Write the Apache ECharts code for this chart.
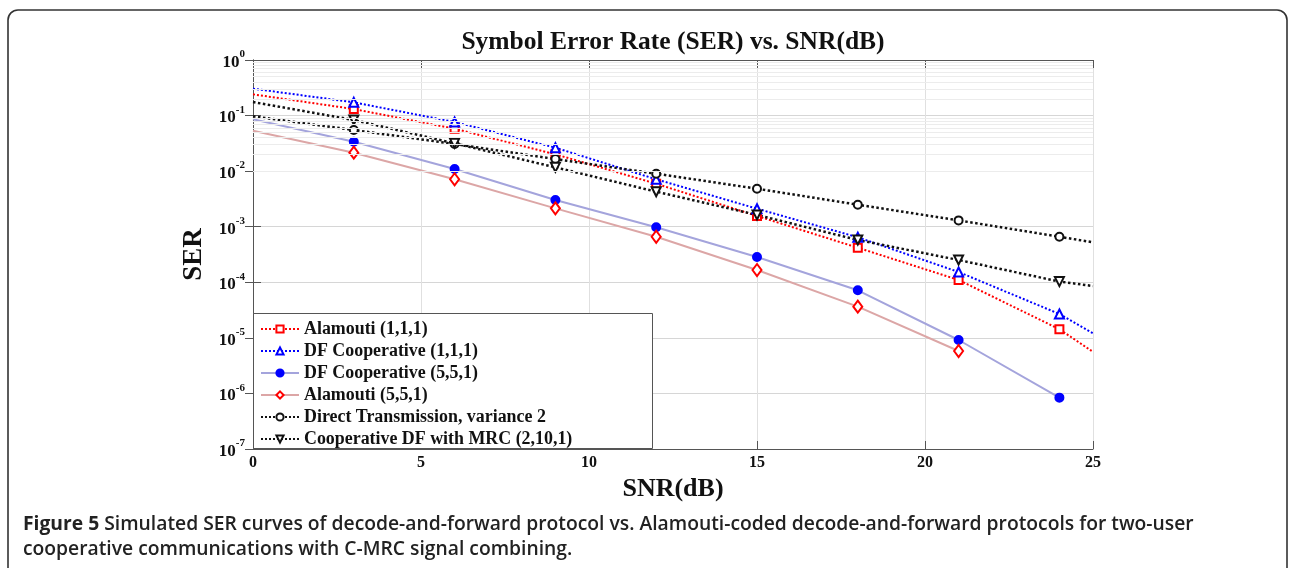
<!DOCTYPE html>
<html>
<head>
<meta charset="utf-8">
<title>SER vs SNR</title>
<script src="https://cdn.jsdelivr.net/npm/echarts@6/dist/echarts.min.js"></script>
<style>
  html, body { margin: 0; padding: 0; background: #fff; }
  #main { width: 1289px; height: 568px; }
</style>
</head>
<body>
<div id="main"></div>
<script>
// SNR points (dB); markers only sit on 3..24
const snr = [0, 3, 6, 9, 12, 15, 18, 21, 24, 25];

const alamouti111 = [0.241, 0.131, 0.058, 0.0201, 0.00594, 0.00156, 4.19e-4, 1.10e-4, 1.43e-5, 5.6e-6];
const dfCoop111 = [0.305, 0.173, 0.0766, 0.0264, 0.00713, 0.00211, 6.45e-4, 1.53e-4, 2.69e-5, 1.21e-5];
const dfCoop551 = [0.0857, 0.0339, 0.0109, 0.00303, 9.75e-4, 2.85e-4, 7.17e-5, 9.15e-6, 8.4e-7];
const alamouti551 = [0.0535, 0.0215, 0.00713, 0.00214, 6.6e-4, 1.66e-4, 3.64e-5, 5.8e-6];
const direct = [0.0969, 0.055, 0.0308, 0.0165, 0.0090, 0.00483, 0.00249, 0.0013, 6.6e-4, 5.24e-4];
const coopMrc = [0.175, 0.0832, 0.0316, 0.0117, 0.00427, 0.00163, 5.77e-4, 2.52e-4, 1.03e-4, 8.57e-5];

const names = [
  'Alamouti (1,1,1)',
  'DF Cooperative (1,1,1)',
  'DF Cooperative (5,5,1)',
  'Alamouti (5,5,1)',
  'Direct Transmission, variance 2',
  'Cooperative DF with MRC (2,10,1)'
];

const serif = 'Liberation Serif';

function pts(vals) {
  return vals.map(function (v, i) {
    const x = snr[i];
    const item = { value: [x, v] };
    if (x === 0 || x === 25) item.symbol = 'none';
    return item;
  });
}

// minor log grid lines at 2..9 x 10^k
const minorLines = [];
for (let k = -7; k < 0; k++) {
  for (let m = 2; m <= 9; m++) {
    minorLines.push({ yAxis: m * Math.pow(10, k) });
  }
}

function mkSeries(name, vals, o) {
  return {
    name: name,
    type: 'line',
    data: pts(vals),
    symbol: o.symbol,
    symbolSize: o.size,
    symbolRotate: o.rotate || 0,
    showAllSymbol: true,
    z: 3,
    lineStyle: { color: o.line, width: o.width, type: o.type },
    itemStyle: { color: o.mark, borderColor: o.mark, borderWidth: 2 },
    emphasis: { disabled: true },
    animation: false
  };
}

let myChart = echarts.init(document.getElementById('main'));
let option = {
  backgroundColor: '#fff',
  title: {
    text: 'Symbol Error Rate (SER) vs. SNR(dB)',
    left: 668,
    top: 24,
    textAlign: 'center',
    textStyle: { fontFamily: serif, fontWeight: 'bold', fontSize: 25.5, color: '#111' }
  },
  legend: {
    orient: 'vertical',
    left: 260,
    top: 320,
    padding: 0,
    itemWidth: 38,
    itemHeight: 9,
    itemGap: 4,
    selectedMode: false,
    data: names,
    textStyle: { fontFamily: serif, fontWeight: 'bold', fontSize: 17.9, color: '#111' }
  },
  grid: { left: 253, right: 196, top: 60, bottom: 119, containLabel: false },
  xAxis: [
    {
      type: 'value',
      min: 0,
      max: 25,
      interval: 5,
      name: 'SNR(dB)',
      nameLocation: 'middle',
      nameGap: 26,
      nameTextStyle: { fontFamily: serif, fontWeight: 'bold', fontSize: 26, color: '#111' },
      axisLine: { lineStyle: { color: '#555' } },
      axisTick: { inside: true, length: 8, lineStyle: { color: '#555' } },
      axisLabel: { margin: 6, fontFamily: serif, fontWeight: 'bold', fontSize: 16, color: '#111' },
      splitLine: { show: true, lineStyle: { color: '#e0e0e0' } }
    },
    {
      type: 'value',
      position: 'top',
      min: 0,
      max: 25,
      interval: 5,
      axisLine: { lineStyle: { color: '#555' } },
      axisTick: { inside: true, length: 8, lineStyle: { color: '#555' } },
      axisLabel: { show: false },
      splitLine: { show: false }
    }
  ],
  yAxis: [
    {
      type: 'log',
      logBase: 10,
      min: 1e-7,
      max: 1,
      interval: 1,
      name: 'SER',
      nameLocation: 'middle',
      nameRotate: 90,
      nameGap: 40,
      nameTextStyle: { fontFamily: serif, fontWeight: 'bold', fontSize: 27, color: '#111' },
      axisLine: { show: true, lineStyle: { color: '#555' } },
      axisTick: { inside: true, length: 8, lineStyle: { color: '#555' } },
      axisLabel: {
        margin: 8,
        formatter: function (v) {
          const e = Math.round(Math.log10(v));
          return '{b|10}{s|' + e + '}';
        },
        rich: {
          b: { fontFamily: serif, fontWeight: 'bold', fontSize: 17, color: '#111', lineHeight: 22, verticalAlign: 'bottom' },
          s: { fontFamily: serif, fontWeight: 'bold', fontSize: 11, color: '#111', lineHeight: 22, verticalAlign: 'top' }
        }
      },
      splitLine: { show: true, lineStyle: { color: '#d6d6d6' } }
    },
    {
      type: 'log',
      logBase: 10,
      min: 1e-7,
      max: 1,
      interval: 1,
      position: 'right',
      axisLine: { show: true, lineStyle: { color: '#555' } },
      axisTick: { inside: true, length: 8, lineStyle: { color: '#555' } },
      axisLabel: { show: false },
      splitLine: { show: false }
    }
  ],
  graphic: [
    {
      type: 'rect',
      z: 1,
      shape: { x: 8, y: 10, width: 1279, height: 620, r: 10 },
      style: { fill: 'none', stroke: '#333', lineWidth: 1.6 }
    },
    {
      type: 'rect',
      z: 3,
      shape: { x: 253.5, y: 313.5, width: 399, height: 135 },
      style: { fill: '#fff', stroke: '#555', lineWidth: 1 }
    },
    {
      type: 'text',
      left: 23,
      top: 512,
      style: {
        text: '{b|Figure 5} Simulated SER curves of decode-and-forward protocol vs. Alamouti-coded decode-and-forward protocols for two-user\ncooperative communications with C-MRC signal combining.',
        fontFamily: 'Open Sans',
        fontSize: 19.3,
        fontWeight: 600,
        lineHeight: 25,
        fill: '#222',
        rich: {
          b: { fontFamily: 'Open Sans', fontSize: 19.3, fontWeight: 'bold', fill: '#222', lineHeight: 25 }
        }
      }
    }
  ],
  series: [
    {
      name: 'grid-minor',
      type: 'line',
      data: [],
      z: 1,
      silent: true,
      animation: false,
      markLine: {
        silent: true,
        symbol: 'none',
        animation: false,
        label: { show: false },
        lineStyle: { color: '#ececec', width: 1, type: 'solid' },
        data: minorLines
      }
    },
    mkSeries(names[0], alamouti111, { symbol: 'emptyRect', size: 8, line: '#ff0000', mark: '#ff0000', width: 2, type: 'dotted' }),
    mkSeries(names[1], dfCoop111, { symbol: 'emptyTriangle', size: 9, line: '#0000ff', mark: '#0000ff', width: 2, type: 'dotted' }),
    mkSeries(names[2], dfCoop551, { symbol: 'circle', size: 8, line: '#a4a4dc', mark: '#0000ff', width: 2, type: 'solid' }),
    mkSeries(names[3], alamouti551, { symbol: 'emptyDiamond', size: [9, 12], line: '#dca6a6', mark: '#ff0000', width: 2, type: 'solid' }),
    mkSeries(names[4], direct, { symbol: 'emptyCircle', size: 8, line: '#111', mark: '#111', width: 2.5, type: 'dotted' }),
    mkSeries(names[5], coopMrc, { symbol: 'emptyTriangle', size: 9, rotate: 180, line: '#111', mark: '#111', width: 2.5, type: 'dotted' })
  ]
};

option && myChart.setOption(option);
</script>
</body>
</html>
